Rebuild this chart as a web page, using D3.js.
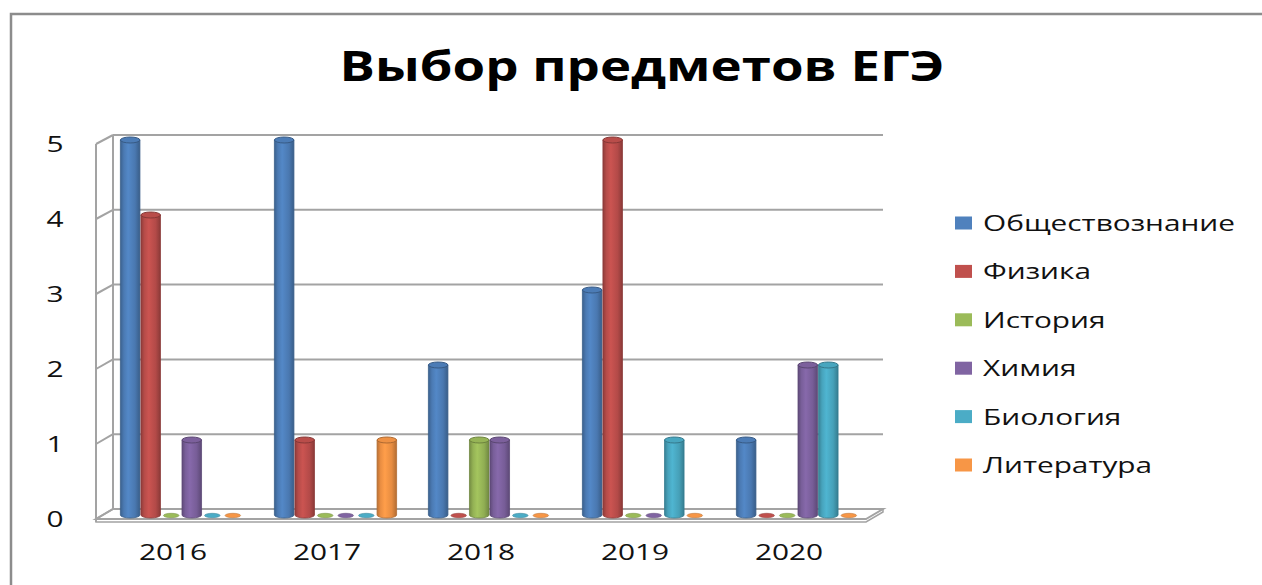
<!DOCTYPE html>
<html><head><meta charset="utf-8">
<script src="https://cdn.jsdelivr.net/npm/d3@7"></script>
<style>html,body{margin:0;padding:0;background:#fff;}svg{display:block;}</style>
</head><body>
<script>
const categories = ['2016','2017','2018','2019','2020'];
const seriesNames = ['Обществознание','Физика','История','Химия','Биология','Литература'];
const obsh = [5,5,2,3,1];
const fiz  = [4,1,0,5,0];
const ist  = [0,0,1,0,0];
const him  = [1,0,1,0,2];
const bio  = [0,0,0,1,2];
const lit  = [0,1,0,0,0];
const seriesValues = [obsh, fiz, ist, him, bio, lit];
const colors = ['#4F81BD','#C0504D','#9BBB59','#8064A2','#4BACC6','#F79646'];
const yTicks = [0,1,2,3,4,5];
const title = 'Выбор предметов ЕГЭ';

const W = 1262, H = 585;
const svg = d3.select('body').append('svg').attr('width', W).attr('height', H);
const defs = svg.append('defs');
const FONT = '"Open Sans", sans-serif';

// 3D geometry
const dx = 17, dy = -10;       // front -> back offset
const backX0 = 113, backX1 = 883;
const yBack = d3.scaleLinear().domain([0,5]).range([509,135]);
const yFront = d3.scaleLinear().domain([0,5]).range([519,144]);
const yMid = d3.scaleLinear().domain([0,5]).range([515,140]);

// chart frame
svg.append('path').attr('d', `M11,${H+5} L11,14 L${W+5},14`)
  .attr('fill','none').attr('stroke','#8c8c8c').attr('stroke-width',2.5);

const gridColor = '#a3a3a3';
const g = svg.append('g');

// floor slab
const fx0 = backX0 - dx, fx1 = backX1 - dx;
g.append('path')
  .attr('d', `M${backX0},${yBack(0)} L${backX1},${yBack(0)} L${fx1},${yFront(0)} L${fx0},${yFront(0)} Z`)
  .attr('fill','#fff').attr('stroke', gridColor).attr('stroke-width',2);
g.append('path')
  .attr('d', `M${fx0},${yFront(0)} L${fx0},${yFront(0)+3} L${fx1},${yFront(0)+3} L${backX1},${yBack(0)+3} L${backX1},${yBack(0)}`)
  .attr('fill','none').attr('stroke', gridColor).attr('stroke-width',1.5);

// back wall gridlines
g.selectAll('.grid').data(yTicks.filter(d=>d>0)).enter().append('line')
  .attr('x1', backX0).attr('x2', backX1)
  .attr('y1', d=>yBack(d)).attr('y2', d=>yBack(d))
  .attr('stroke', gridColor).attr('stroke-width',2);
// left side wall
g.append('line').attr('x1', backX0).attr('x2', backX0).attr('y1', yBack(5)).attr('y2', yBack(0))
  .attr('stroke', gridColor).attr('stroke-width',2);
g.append('line').attr('x1', fx0).attr('x2', fx0).attr('y1', yFront(5)).attr('y2', yFront(0)+3)
  .attr('stroke', gridColor).attr('stroke-width',2);
g.selectAll('.diag').data(yTicks).enter().append('line')
  .attr('x1', fx0).attr('x2', backX0)
  .attr('y1', d=>yFront(d)).attr('y2', d=>yBack(d))
  .attr('stroke', gridColor).attr('stroke-width',2);

// scales for bars (mid-depth)
const x0 = d3.scaleBand().domain(categories)
  .range([backX0 + dx/2, backX1 + dx/2].map(v=>v - dx))
  .paddingInner(0.2).paddingOuter(0.1);
const x1 = d3.scaleBand().domain(seriesNames).range([0, x0.bandwidth()]);

// gradients
colors.forEach((c,i)=>{
  const base = d3.color(c);
  const gr = defs.append('linearGradient').attr('id','gr'+i).attr('x1','0%').attr('x2','100%').attr('y1','0%').attr('y2','0%');
  gr.append('stop').attr('offset','0%').attr('stop-color', base.darker(0.8));
  gr.append('stop').attr('offset','18%').attr('stop-color', base.darker(0.15));
  gr.append('stop').attr('offset','40%').attr('stop-color', base.brighter(0.15));
  gr.append('stop').attr('offset','75%').attr('stop-color', base.darker(0.2));
  gr.append('stop').attr('offset','100%').attr('stop-color', base.darker(0.9));
});

const bars = g.append('g');
seriesNames.forEach((name, si)=>{
  const vals = seriesValues[si];
  categories.forEach((cat, ci)=>{
    const v = vals[ci];
    const bx = x0(cat) + x1(name);
    const bw = x1.bandwidth();
    const cx = bx + bw/2;
    const rx = bw/2 - 0.5;
    const ry = 3;
    const y0 = yMid(0), yv = yMid(v);
    const c = d3.color(colors[si]);
    if (v > 0) {
      bars.append('path')
        .attr('d', `M${cx-rx},${yv} L${cx-rx},${y0} A${rx},${ry} 0 0 0 ${cx+rx},${y0} L${cx+rx},${yv} Z`)
        .attr('fill', `url(#gr${si})`).attr('stroke', c.darker(0.9)).attr('stroke-width',0.8);
      bars.append('ellipse').attr('cx', cx).attr('cy', yv).attr('rx', rx).attr('ry', ry)
        .attr('fill', c.darker(0.1)).attr('stroke', c.darker(1)).attr('stroke-width',1);
    } else {
      bars.append('ellipse').attr('cx', cx).attr('cy', y0+0.5).attr('rx', rx-2).attr('ry', 2.2)
        .attr('fill', c).attr('stroke', c.darker(0.7)).attr('stroke-width',0.6);
    }
  });
});

const S = 1.42; // horizontal stretch of text
function stretch(sel, f){
  sel.each(function(){ const w = this.getComputedTextLength(); d3.select(this).attr('textLength', w*f).attr('lengthAdjust','spacingAndGlyphs'); });
}

// y tick labels
const yl = svg.append('g').selectAll('text').data(yTicks).enter().append('text')
  .attr('x', 55).attr('y', d=>yFront(d)).attr('dy','0.36em')
  .attr('text-anchor','middle').attr('font-family',FONT).attr('font-size',21).attr('fill','#111')
  .text(d=>d);
stretch(yl, S);

// x labels
const xl = svg.append('g').selectAll('text').data(categories).enter().append('text')
  .attr('x', d=>x0(d) + x0.bandwidth()/2 - dx/2).attr('y', 560)
  .attr('text-anchor','middle').attr('font-family',FONT).attr('font-size',21).attr('fill','#111')
  .text(d=>d);
stretch(xl, S);

// title
const tt = svg.append('text').attr('x', 642).attr('y', 81).attr('text-anchor','middle')
  .attr('font-family',FONT).attr('font-weight','bold').attr('font-size',42).attr('fill','#000')
  .text(title);
stretch(tt, 605 / tt.node().getComputedTextLength());

// legend
const lg = svg.append('g');
const legY = d3.scalePoint().domain(seriesNames).range([223, 465]);
seriesNames.forEach((name,i)=>{
  lg.append('rect').attr('x', 955).attr('y', legY(name)-6.5).attr('width',17).attr('height',13).attr('fill', colors[i]);
});
const lt = lg.selectAll('text').data(seriesNames).enter().append('text')
  .attr('x', 983).attr('y', d=>legY(d)).attr('dy','0.36em')
  .attr('font-family',FONT).attr('font-size',22).attr('fill','#111').text(d=>d);
stretch(lt, 252 / lt.node().getComputedTextLength());
</script>
</body></html>
